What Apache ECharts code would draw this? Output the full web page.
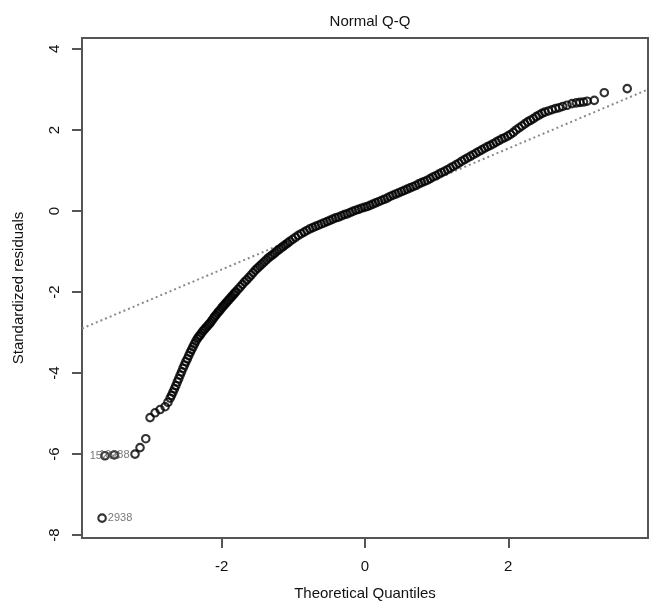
<!DOCTYPE html>
<html>
<head>
<meta charset="utf-8">
<script src="https://cdn.jsdelivr.net/npm/echarts@6.0.0/dist/echarts.min.js"></script>
<style>
  html, body { margin: 0; padding: 0; background: #fff; }
  #chart { width: 650px; height: 606px; }
</style>
</head>
<body>
<div id="chart"></div>
<script>
// theoretical quantile / standardized residual pairs
const lowerTail = [
  [-3.21, -6.00], [-3.14, -5.84], [-3.06, -5.62], [-3.00, -5.10], [-2.93, -4.98],
  [-2.86, -4.90], [-2.79, -4.83], [-2.75, -4.72]
];
const body = [
  [-2.72, -4.62], [-2.70, -4.55], [-2.68, -4.47], [-2.66, -4.39], [-2.64, -4.31],
  [-2.62, -4.22], [-2.60, -4.14], [-2.58, -4.05], [-2.56, -3.97], [-2.54, -3.88],
  [-2.52, -3.80], [-2.50, -3.72], [-2.48, -3.65], [-2.46, -3.57], [-2.44, -3.49],
  [-2.42, -3.42], [-2.40, -3.35], [-2.38, -3.28], [-2.36, -3.21], [-2.34, -3.15],
  [-2.32, -3.10], [-2.30, -3.06], [-2.28, -3.01], [-2.26, -2.96], [-2.24, -2.92],
  [-2.22, -2.88], [-2.20, -2.84], [-2.18, -2.80], [-2.16, -2.76], [-2.14, -2.71],
  [-2.12, -2.66], [-2.10, -2.61], [-2.08, -2.57], [-2.06, -2.52], [-2.04, -2.48],
  [-2.02, -2.44], [-2.00, -2.39], [-1.98, -2.35], [-1.96, -2.31], [-1.94, -2.27],
  [-1.92, -2.23], [-1.90, -2.19], [-1.88, -2.15], [-1.86, -2.11], [-1.84, -2.07],
  [-1.82, -2.03], [-1.80, -1.99], [-1.77, -1.93], [-1.74, -1.87], [-1.71, -1.81],
  [-1.68, -1.75], [-1.65, -1.70], [-1.62, -1.64], [-1.59, -1.58], [-1.56, -1.52],
  [-1.53, -1.46], [-1.50, -1.41], [-1.47, -1.36], [-1.44, -1.31], [-1.41, -1.26],
  [-1.38, -1.21], [-1.35, -1.16], [-1.32, -1.12], [-1.29, -1.08], [-1.26, -1.04],
  [-1.23, -0.99], [-1.20, -0.95], [-1.17, -0.91], [-1.14, -0.87], [-1.11, -0.83],
  [-1.08, -0.79], [-1.05, -0.75], [-1.01, -0.70], [-0.97, -0.65], [-0.93, -0.60],
  [-0.89, -0.56], [-0.85, -0.52], [-0.81, -0.48], [-0.77, -0.44], [-0.73, -0.41],
  [-0.69, -0.38], [-0.65, -0.35], [-0.61, -0.32], [-0.57, -0.29], [-0.53, -0.26],
  [-0.49, -0.23], [-0.45, -0.20], [-0.41, -0.17], [-0.37, -0.15], [-0.33, -0.12],
  [-0.29, -0.09], [-0.25, -0.07], [-0.21, -0.04], [-0.17, -0.01], [-0.13, 0.02],
  [-0.09, 0.04], [-0.05, 0.07], [-0.01, 0.09], [0.03, 0.11], [0.07, 0.14],
  [0.11, 0.17], [0.15, 0.20], [0.19, 0.23], [0.23, 0.26], [0.27, 0.29],
  [0.31, 0.32], [0.35, 0.36], [0.39, 0.39], [0.43, 0.42], [0.47, 0.45],
  [0.51, 0.48], [0.55, 0.51], [0.59, 0.54], [0.63, 0.57], [0.67, 0.60],
  [0.71, 0.63], [0.75, 0.67], [0.79, 0.70], [0.83, 0.73], [0.87, 0.76],
  [0.91, 0.80], [0.95, 0.84], [0.99, 0.87], [1.03, 0.91], [1.07, 0.95],
  [1.11, 0.98], [1.15, 1.02], [1.19, 1.06], [1.23, 1.10], [1.27, 1.14],
  [1.31, 1.18], [1.35, 1.23], [1.39, 1.27], [1.43, 1.31], [1.47, 1.35],
  [1.51, 1.39], [1.55, 1.43], [1.59, 1.47], [1.63, 1.51], [1.67, 1.55],
  [1.71, 1.59], [1.75, 1.62], [1.79, 1.66], [1.83, 1.70], [1.87, 1.74],
  [1.91, 1.78], [1.95, 1.81], [1.99, 1.85], [2.03, 1.89], [2.07, 1.94],
  [2.11, 2.00], [2.15, 2.05], [2.19, 2.10], [2.23, 2.15], [2.27, 2.20],
  [2.31, 2.24], [2.35, 2.28], [2.39, 2.33], [2.43, 2.37], [2.47, 2.41],
  [2.51, 2.44], [2.56, 2.47], [2.61, 2.50], [2.66, 2.53], [2.71, 2.55],
  [2.76, 2.58]
];
const upperTail = [
  [2.82, 2.61], [2.89, 2.65], [2.95, 2.67], [3.00, 2.68], [3.05, 2.69],
  [3.10, 2.71], [3.20, 2.73], [3.34, 2.92], [3.66, 3.02]
];
// the three flagged observations
const flaggedIds = ['2938', '15268', '16288'];
const flaggedPts = [[-3.67, -7.58], [-3.63, -6.04], [-3.50, -6.02]];
// reference line through the quartiles
const refLine = [[-3.95, -2.90], [3.95, 3.00]];

const xTicks = [-2, 0, 2];
const yTicks = [-8, -6, -4, -2, 0, 2, 4];

const font = '"Liberation Sans", Arial, Helvetica, sans-serif';
const ink = '#111';
const frame = '#555';

const chart = echarts.init(document.getElementById('chart'));

const pointStyle = {
  color: 'rgba(0,0,0,0)',
  borderColor: '#000',
  borderWidth: 2.1
};

chart.setOption({
  animation: false,
  title: {
    text: 'Normal Q-Q',
    left: 365,
    top: 9,
    textAlign: 'center',
    textStyle: { fontFamily: font, fontSize: 15, fontWeight: 'normal', color: ink }
  },
  grid: {
    left: 82, right: 2, top: 38, bottom: 65,
    show: true, borderColor: frame, borderWidth: 2, backgroundColor: '#fff'
  },
  xAxis: {
    type: 'value',
    min: -3.95, max: 3.95,
    name: 'Theoretical Quantiles',
    nameLocation: 'middle',
    nameGap: 48,
    nameTextStyle: { fontFamily: font, fontSize: 15, color: ink },
    axisLine: { show: false, onZero: false },
    splitLine: { show: false },
    axisTick: {
      show: true, length: 10, inside: false, customValues: xTicks,
      lineStyle: { color: frame, width: 2 }
    },
    axisLabel: {
      customValues: xTicks, margin: 21,
      fontFamily: font, fontSize: 15, color: ink
    }
  },
  yAxis: {
    type: 'value',
    min: -8.07, max: 4.27,
    name: 'Standardized residuals',
    nameLocation: 'middle',
    nameGap: 56,
    nameRotate: 90,
    nameTextStyle: { fontFamily: font, fontSize: 15, color: ink },
    axisLine: { show: false, onZero: false },
    splitLine: { show: false },
    axisTick: {
      show: true, length: 10, inside: false, customValues: yTicks,
      lineStyle: { color: frame, width: 2 }
    },
    axisLabel: {
      customValues: yTicks, rotate: 90, margin: 20,
      fontFamily: font, fontSize: 15, color: ink
    }
  },
  series: [
    {
      type: 'line',
      data: refLine,
      symbol: 'none',
      silent: true,
      z: 1,
      lineStyle: { color: '#8a8a8a', width: 2, type: [2, 3] }
    },
    {
      type: 'scatter',
      data: lowerTail.concat(body, upperTail),
      symbol: 'circle',
      symbolSize: 7.5,
      z: 2,
      itemStyle: pointStyle
    },
    {
      type: 'scatter',
      data: flaggedPts.map((p, i) => ({
        value: p,
        name: flaggedIds[i],
        label: { position: i === 0 ? 'right' : 'inside' }
      })),
      symbol: 'circle',
      symbolSize: 7.5,
      z: 3,
      itemStyle: pointStyle,
      label: {
        show: true,
        distance: 1,
        formatter: p => p.name,
        fontFamily: font,
        fontSize: 11,
        color: '#555'
      }
    }
  ]
});
</script>
</body>
</html>
